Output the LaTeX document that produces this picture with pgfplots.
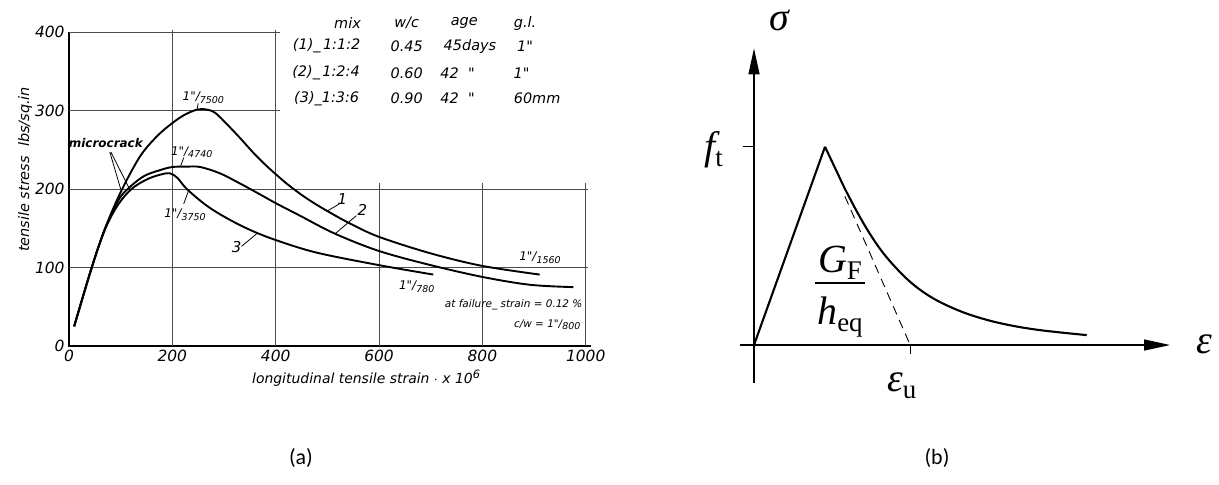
\documentclass[border=0pt]{standalone}
\usepackage{fontspec}
\setmainfont{Carlito}
\newfontfamily\tech{DejaVu Sans}
\newfontfamily\tms{Liberation Serif}
\usepackage{pgfplots}
\pgfplotsset{compat=1.18}
\usetikzlibrary{arrows.meta}

% gauge length over its strain, e.g. 1"/7500
\newcommand\gl[1]{1"/\raisebox{-2.5bp}{\fontsize{9.5}{9.5}\selectfont #1}}
% serif symbols with upright subscripts
\newcommand\sym[1]{{\tms\itshape #1}}
\newcommand\sub[1]{\raisebox{-7bp}{\fontsize{27}{27}\selectfont\tms #1}}

\tikzset{
  gridc/.style={black!70, line width=0.9bp},
  curve/.style={black, line width=1.9bp, smooth, tension=0.55},
  ptr/.style={black, line width=0.8bp},
  lab/.style={font=\tech\itshape\fontsize{12}{13}\selectfont, inner sep=0pt},
  tab/.style={font=\tech\itshape\fontsize{14.5}{16}\selectfont, inner sep=0pt},
  big/.style={font=\tms\fontsize{40}{42}\selectfont, inner sep=0pt},
}

\begin{document}
\begin{tikzpicture}
\useasboundingbox (0,0) rectangle (1219bp,485bp);

%---------------- (a) measured stress-strain curves ----------------
\begin{axis}[
  at={(69bp,139bp)}, anchor=south west,
  scale only axis, width=516.7bp, height=314bp,
  xmin=0, xmax=1000, ymin=0, ymax=400,
  clip=false,
  axis line style={draw=none},
  major tick length=0pt,
  xtick={0,200,400,600,800,1000},
  ytick={0,100,200,300,400},
  /pgf/number format/assume math mode=true,
  /pgf/number format/1000 sep={},
  ticklabel style={font=\tech\itshape\fontsize{15.5}{16}\selectfont},
  xticklabel style={yshift=-1bp},
  yticklabel style={xshift=-1bp},
]
% frame and partial grid
\draw[black, line width=1.4bp] (0,400) -- (0,0) -- (1010,0);
\draw[gridc] (0,400) -- (408,400);
\draw[gridc] (0,300) -- (408,300);
\draw[gridc] (0,200) -- (1005,200);
\draw[gridc] (0,100) -- (1005,100);
\draw[gridc] (200,0) -- (200,402);
\draw[gridc] (400,0) -- (400,402);
\draw[gridc] (600,0) -- (600,208);
\draw[gridc] (800,0) -- (800,208);
\draw[gridc] (1000,0) -- (1000,208);

% curve 1 : 1:1:2
\addplot[curve] coordinates {
 (10,25) (44,100) (70,150) (100,196) (137,241) (170,267) (200,284)
 (225,295) (250,301.5) (268,301) (283,297) (305,283) (331,265) (357,246)
 (383,229) (400,219) (421,207) (447,194) (473,182.5) (505,170) (544,156)
 (600,139) (700,118) (800,102) (911,91)};
% curve 2 : 1:2:4
\addplot[curve] coordinates {
 (10,25) (44,100) (70,150) (95,185) (112,199) (144,216) (176,224)
 (200,228) (228,228.5) (254,228) (292,220) (331,207) (370,193) (400,182)
 (447,166) (515,143) (600,121) (700,103) (800,88) (892,78) (976,75)};
% curve 3 : 1:3:6
\addplot[curve] coordinates {
 (10,25) (44,100) (70,149) (95,180) (121,200) (150,212) (175,218)
 (195,220) (210,214) (228,200) (266,179) (305,163) (350,148) (400,135)
 (479,119) (600,103) (705,91)};

% annotations
\node[lab] at (260,316) {\gl{7500}};
\draw[ptr] (250,309) -- (248,302);
\node[lab] at (237.5,247) {\gl{4740}};
\draw[ptr] (222,240) -- (216,229);
\node[lab] at (224.5,167) {\gl{3750}};
\draw[ptr] (222,181) -- (232,199);
\node[lab, font=\tech\itshape\fontsize{15}{15}\selectfont] at (324.5,126.5) {3};
\draw[ptr] (334,127) -- (365,144);
\node[lab, font=\tech\itshape\fontsize{15}{15}\selectfont] at (529,187) {1};
\draw[ptr] (523,181) -- (500,172);
\node[lab, font=\tech\itshape\fontsize{15}{15}\selectfont] at (568,173) {2};
\draw[ptr] (556,166) -- (515,143);
\node[lab] at (911.5,112.7) {\gl{1560}};
\node[lab] at (673,75.5) {\gl{780}};
\node[lab, font=\tech\itshape\fontsize{10.5}{11}\selectfont, anchor=east] at (994,52) {at failure\_ strain = 0.12 \%};
\node[lab, font=\tech\itshape\fontsize{10.5}{11}\selectfont, anchor=east] at (990,27) {c/w = \gl{800}};
\node[lab, font=\tech\bfseries\itshape\fontsize{12}{12}\selectfont] at (71.3,259) {microcrack};
\draw[ptr] (79,247) -- (100,200);
\draw[ptr] (81,247) -- (118,199);

% mix table
\node[tab] at (539,412) {mix};
\node[tab] at (653.5,411) {w/c};
\node[tab] at (765,411) {age};
\node[tab] at (882.6,411) {g.l.};
\node[tab] at (498.7,382) {(1)\_\,1:1:2};
\node[tab] at (653.5,382) {0.45};
\node[tab] at (776,382) {45days};
\node[tab] at (882.6,382) {1"};
\node[tab] at (497.5,348) {(2)\_\,1:2:4};
\node[tab] at (653.5,348) {0.60};
\node[tab] at (752,348) {42\ \ "};
\node[tab] at (876,348) {1"};
\node[tab] at (498.7,315.5) {(3)\_1:3:6};
\node[tab] at (653.5,315.5) {0.90};
\node[tab] at (752,315.5) {42\ \ "};
\node[tab] at (906,315.5) {60mm};

% axis titles
\node[font=\tech\itshape\fontsize{14}{15}\selectfont] at (575,-41)
  {longitudinal tensile strain $\cdot$ x 10\raisebox{5bp}{\fontsize{11.5}{11.5}\selectfont 6}};
\node[font=\tech\itshape\fontsize{14.5}{15}\selectfont, rotate=90] at (-85,225)
  {tensile stress\ \ lbs/sq.in};
\end{axis}

%---------------- (b) idealised softening law ----------------
\begin{axis}[
  at={(739.8bp,102.3bp)}, anchor=south west,
  scale only axis, width=430.3bp, height=334.3bp,
  xmin=-0.2, xmax=5.86, ymin=-0.19, ymax=1.496,
  axis lines=middle,
  axis line style={line width=1.3bp, -{Triangle[length=26bp,width=11bp]}},
  xtick=\empty, ytick=\empty,
  clip=false,
]
\addplot[black, line width=2.1bp] coordinates {(0,0) (1,1)};
\addplot[black, line width=2.1bp, smooth, tension=0.6] coordinates {
 (1,1) (1.165,0.875) (1.306,0.77) (1.54,0.615) (1.775,0.485) (2.01,0.385)
 (2.244,0.305) (2.525,0.235) (2.855,0.178) (3.18,0.137) (3.559,0.103)
 (4.03,0.075) (4.686,0.050)};
\addplot[black, line width=0.9bp, dash pattern=on 9bp off 6bp] coordinates {(1.28,0.75) (2.2,0)};
\draw[black, line width=1.1bp] (-0.155,1) -- (0,1);
\draw[black, line width=1.1bp] (2.2,0) -- (2.2,-0.045);
\end{axis}

\node[big] at (779bp,465bp) {\sym{σ}};
\node[big] at (1204bp,141bp) {\sym{ε}};
\node[big, anchor=base west] at (704bp,325bp) {\sym{f}\sub{t}};
\node[big, anchor=base] at (840bp,212bp) {\sym{G}\sub{F}};
\draw[line width=2.2bp] (815bp,202bp) -- (865bp,202bp);
\node[big, anchor=base] at (840bp,160bp) {\sym{h}\sub{eq}};
\node[big, anchor=base west] at (887bp,93bp) {\sym{ε}\sub{u}};

% panel captions
\node[font=\fontsize{22}{24}\selectfont] at (301bp,27bp) {(a)};
\node[font=\fontsize{22}{24}\selectfont] at (937bp,27bp) {(b)};
\end{tikzpicture}
\end{document}
